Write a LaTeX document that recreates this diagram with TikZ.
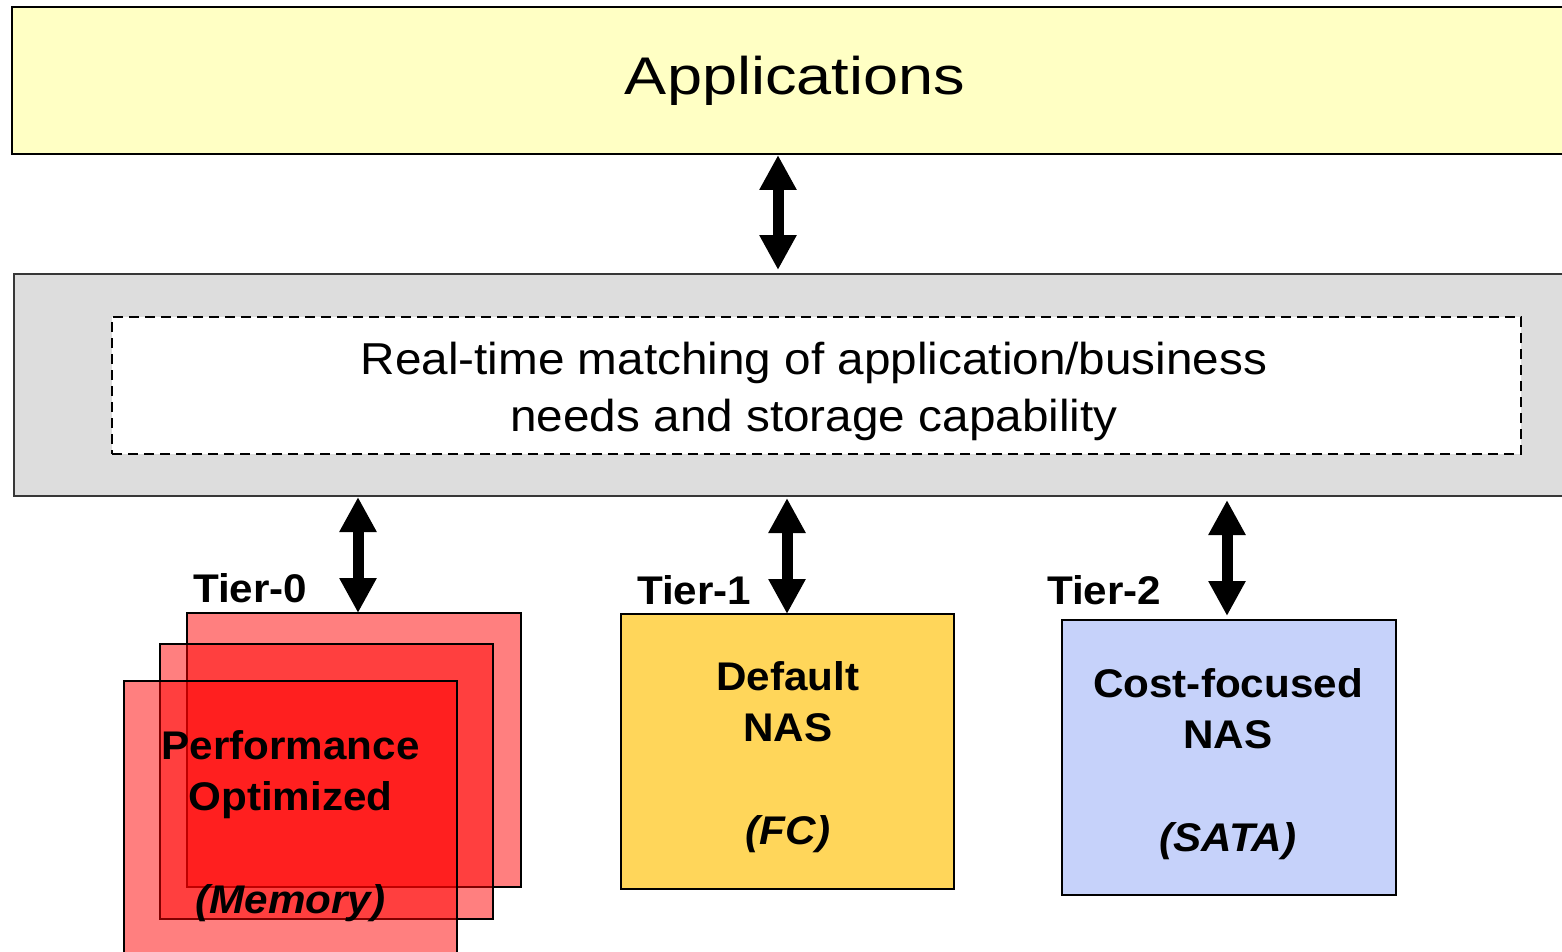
\documentclass[tikz,border=0pt]{standalone}
\usepackage{fontspec}
\setmainfont{Liberation Sans}
\newfontfamily\appfont[FakeStretch=1.19]{Liberation Sans}
\newfontfamily\midfont[FakeStretch=1.067]{Liberation Sans}
\newfontfamily\tierfont[FakeStretch=1.055]{Liberation Sans}
\usetikzlibrary{arrows.meta}

\definecolor{appyellow}{RGB}{255,255,196}
\definecolor{layergray}{RGB}{221,221,221}
\definecolor{layerborder}{RGB}{55,55,55}
\definecolor{tiergold}{RGB}{255,214,90}
\definecolor{tierblue}{RGB}{198,210,250}
\definecolor{tierred}{RGB}{255,0,0}

\tikzset{
  panel/.style={rectangle, draw=black, line width=2pt, outer sep=0pt, inner sep=0pt, anchor=north west},
  redcard/.style={panel, fill=tierred, fill opacity=0.5},
  boxtext/.style={inner sep=0pt, outer sep=0pt, align=center, anchor=north,
    font=\tierfont\fontsize{40}{50.5}\selectfont\bfseries},
  tierlabel/.style={inner sep=0pt, anchor=base west, font=\tierfont\fontsize{40}{48}\selectfont\bfseries},
  dblarrow/.style={line width=11pt, {Triangle[width=35pt,length=35pt]}-{Triangle[width=35pt,length=35pt]}}
}

\begin{document}
\begin{tikzpicture}[x=1pt,y=-1pt]
\useasboundingbox (0,0) rectangle (1562,952);
\clip (0,0) rectangle (1562,952);
\fill[white] (0,0) rectangle (1562,952);

% application layer
\node[panel, fill=appyellow, minimum width=1566pt, minimum height=147pt,
      font=\appfont\fontsize{53}{60}\selectfont] (apps) at (12,7) {Applications};

% matching layer with the dashed policy box
\node[panel, draw=layerborder, fill=layergray, minimum width=1606pt, minimum height=222pt] (layer) at (14,274) {};
\node[panel, fill=white, dashed, dash pattern=on 10pt off 6pt, minimum width=1409pt, minimum height=137pt] (policy) at (112,317) {};
\node[inner sep=0pt, align=center, anchor=north, font=\midfont\fontsize{44.7}{57}\selectfont] (policytext) at (814,342.4)
  {Real-time matching of application/business\\needs and storage capability};

% tier 0: stacked memory cards
\node[redcard, minimum width=334pt, minimum height=274pt] (t0back) at (187,613) {};
\node[redcard, minimum width=333pt, minimum height=275pt] (t0mid) at (160,644) {};
\node[redcard, minimum width=333pt, minimum height=300pt] (t0front) at (124,681) {};
\node[boxtext] (t0text) at (290.5,730.8) {Performance\\Optimized\\[53pt]\textit{(Memory)}};

% tier 1 and tier 2 boxes
\node[panel, fill=tiergold, minimum width=333pt, minimum height=275pt] (t1) at (621,614) {};
\node[boxtext] (t1text) at (788,661.8) {Default\\NAS\\[53pt]\textit{(FC)}};
\node[panel, fill=tierblue, minimum width=334pt, minimum height=275pt] (t2) at (1062,620) {};
\node[boxtext] (t2text) at (1228,668.8) {Cost-focused\\NAS\\[53pt]\textit{(SATA)}};

% tier labels
\node[tierlabel] (l0) at (193,602) {Tier-0};
\node[tierlabel] (l1) at (637,604) {Tier-1};
\node[tierlabel] (l2) at (1047,604) {Tier-2};

% connectors
\coordinate (a0) at (358,0);
\coordinate (a1) at (778,0);
\coordinate (a2) at (787,0);
\coordinate (a3) at (1227,0);
\draw[dblarrow, shorten <=1pt, shorten >=4pt] (apps.south -| a1) -- (layer.north -| a1);
\draw[dblarrow, shorten <=1pt] (layer.south -| a0) -- (t0back.north -| a0);
\draw[dblarrow, shorten <=2pt] (layer.south -| a2) -- (t1.north -| a2);
\draw[dblarrow, shorten <=4pt, shorten >=4pt] (layer.south -| a3) -- (t2.north -| a3);
\end{tikzpicture}
\end{document}
